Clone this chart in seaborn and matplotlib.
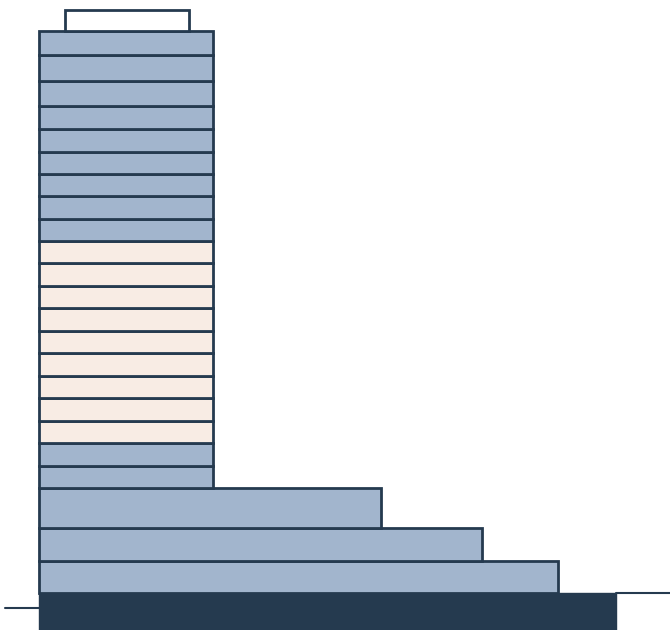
import numpy as np
import matplotlib
matplotlib.use("Agg")
import matplotlib.pyplot as plt
import seaborn as sns

# building section: heights and widths of each level (bottom to top)
base_height = 37
base_width = 577

podium_heights = [32, 33, 40]
podium_widths = [519, 443, 342]

tower_heights = [22, 23, 22, 23, 22, 23, 22, 23, 22, 23, 22, 22, 23, 22, 22, 23, 23, 25, 26, 24]
tower_width = 174
tower_use = ["office"] * 2 + ["residential"] * 9 + ["office"] * 9

roof_height = 21
roof_width = 124
roof_offset = 26

# ground line pieces (x start, x end, level)
ground_left = [-34, 0, -15]
ground_right = [577, 631, 0]

sns.set_theme(style="white")

edge = "#253A4F"
colors = {"office": "#A2B5CD", "residential": "#F8ECE4"}

fig = plt.figure(figsize=(6.7, 6.3), dpi=100)
ax = fig.add_axes([0, 0, 1, 1])

# base (below ground)
ax.barh(-base_height, base_width, height=base_height, left=0, align="edge",
        color=edge, edgecolor=edge, linewidth=1)

# podium
bottom = 0
for h, w in zip(podium_heights, podium_widths):
    ax.barh(bottom, w, height=h, left=0, align="edge",
            color=colors["office"], edgecolor=edge, linewidth=2)
    bottom += h

# tower floors
for h, use in zip(tower_heights, tower_use):
    ax.barh(bottom, tower_width, height=h, left=0, align="edge",
            color=colors[use], edgecolor=edge, linewidth=2)
    bottom += h

# roof box
ax.barh(bottom, roof_width, height=roof_height, left=roof_offset, align="edge",
        color="white", edgecolor=edge, linewidth=2)

# ground lines
ax.plot(ground_left[:2], [ground_left[2]] * 2, color=edge, linewidth=1.5, zorder=0)
ax.plot(ground_right[:2], [ground_right[2]] * 2, color=edge, linewidth=1.5, zorder=0)

ax.set_xlim(-39, 631)
ax.set_ylim(-37, 593)
ax.axis("off")

fig.savefig("out.png", dpi=100)
